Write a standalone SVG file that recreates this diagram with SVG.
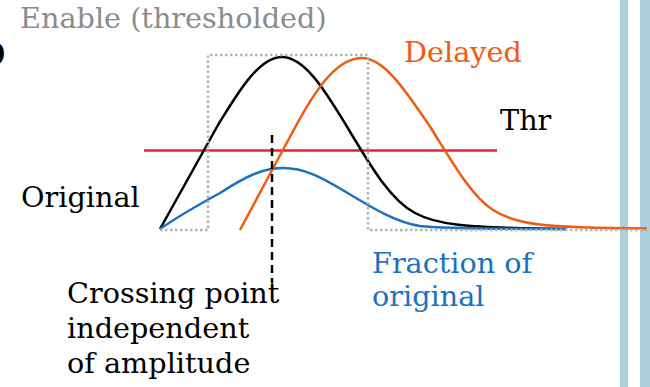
<svg xmlns="http://www.w3.org/2000/svg" width="650" height="387" viewBox="0 0 650 387">
<style>
text{font-family:"DejaVu Serif","Liberation Serif",serif;font-size:28.7px;}
.c{fill:none;stroke-width:2.5;stroke-linejoin:round;stroke-linecap:butt;}
.en{fill:none;stroke:#b4b4b4;stroke-width:2.5;stroke-dasharray:2.5 2.5;}
</style>
<rect x="620" y="0" width="8" height="387" fill="#aecfdd"/>
<rect x="640" y="0" width="10" height="387" fill="#aecfdd"/>
<text x="-7" y="62" style="font-weight:bold">)</text>
<g id="connectors">
<path id="threshold" d="M144,150.5 H497" stroke="#dc2834" stroke-width="2.5"/>
<path id="black-curve" class="c" stroke="#000" d="M160,229 C180,193 200,157 218,125 C236,96 258,57 282,57 C306,57 328,96 346,125 C370,165 390,200 415,213 C435,224 460,228 567,229"/>
<path id="blue-curve" class="c" stroke="#1a72c2" d="M160,229 C180,215 200,204 220,193 C245,177 262,168 283,168 C304,168 321,177 346,192 C371,207 395,222 420,226 C445,229 500,229 567,229"/>
<path id="orange-curve" class="c" stroke="#f25a0f" d="M240,230 C255,202 280,155 298,122 C318,86 338,58 362,58 C386,58 410,98 429,125 C450,158 470,195 493,210 C515,224 540,228 647,228.5"/>
<path id="enable" class="en" d="M160,230 H208 V55 H368 V230 H647"/>
<path id="crossing-marker" d="M272,135 V283" stroke="#000" stroke-width="2.5" stroke-dasharray="8 5"/>
</g>
<g id="label-enable"><text x="20" y="28" fill="#8c8c8c">Enable (thresholded)</text></g>
<g id="label-delayed"><text x="404" y="62" fill="#f25a0f">Delayed</text></g>
<g id="label-thr"><text x="500" y="130" fill="#000">Thr</text></g>
<g id="label-original"><text x="21" y="207" fill="#000">Original</text></g>
<g id="label-fraction"><text x="372" y="273" fill="#1a72c2">Fraction of</text><text x="372" y="306" fill="#1a72c2">original</text></g>
<g id="label-crossing"><text x="67" y="303" fill="#000">Crossing point</text><text x="67" y="338" fill="#000">independent</text><text x="67" y="373" fill="#000">of amplitude</text></g>
</svg>
